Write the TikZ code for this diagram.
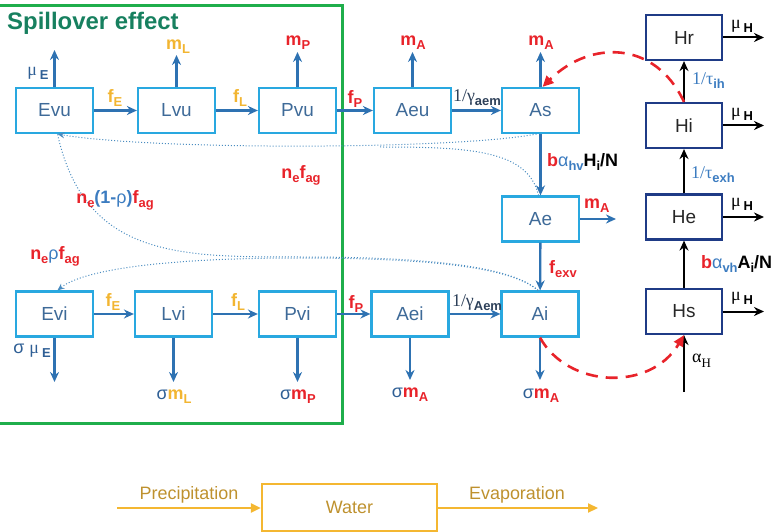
\documentclass[tikz,border=0pt]{standalone}
\usepackage{fontspec}
\setmainfont{Liberation Sans}
\newfontfamily\serifgr{Liberation Serif}
\usetikzlibrary{arrows.meta}
\definecolor{boxblue}{HTML}{29A8E0}
\definecolor{arrblue}{HTML}{2E72B2}
\definecolor{txtblue}{HTML}{3E6A98}
\definecolor{myred}{HTML}{E8232A}
\definecolor{myyel}{HTML}{F2B531}
\definecolor{navy}{HTML}{1F3B86}
\definecolor{sgreen}{HTML}{1FAE4B}
\definecolor{sgtxt}{HTML}{17805F}
\definecolor{watline}{HTML}{F4B731}
\definecolor{wattxt}{HTML}{BE912E}
\definecolor{dotblue}{HTML}{4A8CC0}
\definecolor{mublue}{HTML}{2F5F95}
\definecolor{gamcol}{HTML}{2D4059}
\definecolor{taucol}{HTML}{3C7CC0}
\newcommand\fsz[1]{\fontsize{#1}{#1}\selectfont}
\newcommand\lsub[1]{\raisebox{-0.22em}{\fsz{13}#1}}
\tikzset{
  vbox/.style={draw=boxblue, line width=2.2bp, minimum width=77bp, minimum height=45bp, inner sep=0, text=txtblue, font=\fsz{19}},
  hbox/.style={draw=navy, line width=2.2bp, minimum width=76bp, minimum height=45bp, inner sep=0, text=black!85, font=\fsz{19}},
  flow/.style={draw=arrblue, line width=2.3bp, -{Stealth[length=10bp,width=9bp]}},
  hflow/.style={draw=black, line width=2bp, -{Stealth[length=10bp,width=9bp]}},
  lab/.style={font=\bfseries\fsz{18}, inner sep=0},
  dotc/.style={draw=dotblue, line width=1bp, dotted},
  dotarr/.style={dotc, -{Stealth[length=7bp,width=6bp]}},
  reddash/.style={draw=myred, line width=2.6bp, dash pattern=on 12bp off 8bp, -{Triangle[length=11bp,width=10bp]}},
  watarr/.style={draw=watline, line width=2.2bp, -{Triangle[length=10bp,width=9bp]}},
}
\begin{document}
\begin{tikzpicture}[x=1bp,y=-1bp]
\useasboundingbox (0,0) rectangle (780,532);
% spillover frame
\draw[sgreen, line width=3bp] (-5,6) rectangle (342,423);
\node[anchor=west, font=\bfseries\fsz{24}, text=sgtxt, inner sep=0] (title) at (7,23.5) {Spillover effect};

% mosquito boxes
\node[vbox] (Evu) at (54.5,110.5) {Evu};
\node[vbox] (Lvu) at (176.5,110.5) {Lvu};
\node[vbox] (Pvu) at (297.5,110.5) {Pvu};
\node[vbox] (Aeu) at (412.5,110.5) {Aeu};
\node[vbox] (As) at (540.5,110.5) {As};
\node[vbox] (Ae) at (540.5,219) {Ae};
\node[vbox] (Evi) at (54.5,314) {Evi};
\node[vbox] (Lvi) at (173.5,314) {Lvi};
\node[vbox] (Pvi) at (297.5,314) {Pvi};
\node[vbox] (Aei) at (410,314) {Aei};
\node[vbox] (Ai) at (540,314) {Ai};

% host boxes
\node[hbox] (Hr) at (684,37.5) {Hr};
\node[hbox] (Hi) at (684,125.5) {Hi};
\node[hbox] (He) at (684,217) {He};
\node[hbox] (Hs) at (684,311.5) {Hs};

% free ends
\coordinate (uEvu) at (54.5,50);
\coordinate (uLvu) at (176.5,55);
\coordinate (uPvu) at (297.5,52);
\coordinate (uAeu) at (412.5,52);
\coordinate (uAs) at (540.5,52);
\coordinate (rAe) at (616,219);
\coordinate (dEvi) at (54.5,382);
\coordinate (dLvi) at (173.5,382);
\coordinate (dPvi) at (297.5,382);
\coordinate (dAei) at (410,380);
\coordinate (dAi) at (540,380);
\coordinate (rHr) at (764,37.5);
\coordinate (rHi) at (764,125.5);
\coordinate (rHe) at (764,217);
\coordinate (rHs) at (764,311.5);
\coordinate (inHs) at (684,392);

% top row flows
\draw[flow] (Evu) -- (Lvu);
\draw[flow] (Lvu) -- (Pvu);
\draw[flow] (Pvu) -- (Aeu);
\draw[flow] (Aeu) -- (As);
\draw[flow] (As) -- (Ae);
\draw[flow] (Ae) -- (Ai);
\draw[flow] (Evu.north) -- (uEvu);
\draw[flow] (Lvu.north) -- (uLvu);
\draw[flow] (Pvu.north) -- (uPvu);
\draw[flow] (Aeu.north) -- (uAeu);
\draw[flow] (As.north) -- (uAs);
\draw[flow] (Ae.east) -- (rAe);
% bottom row flows
\draw[flow] (Evi) -- (Lvi);
\draw[flow] (Lvi) -- (Pvi);
\draw[flow] (Pvi) -- (Aei);
\draw[flow] (Aei) -- (Ai);
\draw[flow] (Evi.south) -- (dEvi);
\draw[flow] (Lvi.south) -- (dLvi);
\draw[flow] (Pvi.south) -- (dPvi);
\draw[flow] (Aei.south) -- (dAei);
\draw[flow] (Ai.south) -- (dAi);

% host flows
\draw[hflow] (Hs) -- (He);
\draw[hflow] (He) -- (Hi);
\draw[hflow] (Hi) -- (Hr);
\draw[hflow] (inHs) -- (Hs);
\draw[hflow] (Hr.east) -- (rHr);
\draw[hflow] (Hi.east) -- (rHi);
\draw[hflow] (He.east) -- (rHe);
\draw[hflow] (Hs.east) -- (rHs);

% labels top
\node[lab, text=mublue] (lmuE) at (38,73) {{\serifgr\mdseries\fsz{18}μ}\,\lsub{E}};
\node[lab, text=myyel] (lmL) at (178,47) {m\lsub{L}};
\node[lab, text=myred] (lmP) at (298,43) {m\lsub{P}};
\node[lab, text=myred] (lmA1) at (413,43) {m\lsub{A}};
\node[lab, text=myred] (lmA2) at (541,43) {m\lsub{A}};
\node[lab, text=myyel] (lfE1) at (115,98) {f\lsub{E}};
\node[lab, text=myyel] (lfL1) at (240,98) {f\lsub{L}};
\node[lab, text=myred] (lfP1) at (355,99) {f\lsub{P}};
\node[lab, text=gamcol] (lgam1) at (477,98) {{\serifgr\mdseries\fsz{18}1/γ}\lsub{aem}};
\node[lab, anchor=west] (lbhv) at (547,162) {\textcolor{myred}{b}\textcolor{taucol}{\mdseries α\lsub{\bfseries hv}}H\lsub{i}/N};
\node[lab, text=myred, anchor=west] (lmA3) at (584,206) {m\lsub{A}};
\node[lab, text=myred, anchor=west] (lfexv) at (549,269) {f\lsub{exv}};
% labels bottom
\node[lab, text=myyel] (lfE2) at (113,302) {f\lsub{E}};
\node[lab, text=myyel] (lfL2) at (238,302) {f\lsub{L}};
\node[lab, text=myred] (lfP2) at (356,304) {f\lsub{P}};
\node[lab, text=gamcol] (lgam2) at (477,303) {{\serifgr\mdseries\fsz{18}1/γ}\lsub{Aem}};
\node[lab, text=mublue] (lsmuE) at (32,351) {{\mdseries σ} {\serifgr\mdseries\fsz{18}μ}\,\lsub{E}};
\node[lab] (lsmL) at (174,397) {\textcolor{mublue}{\mdseries σ}\textcolor{myyel}{m\lsub{L}}};
\node[lab] (lsmP) at (298,397) {\textcolor{mublue}{\mdseries σ}\textcolor{myred}{m\lsub{P}}};
\node[lab] (lsmA1) at (410,395) {\textcolor{mublue}{\mdseries σ}\textcolor{myred}{m\lsub{A}}};
\node[lab] (lsmA2) at (541,396) {\textcolor{mublue}{\mdseries σ}\textcolor{myred}{m\lsub{A}}};
% host labels
\node[lab] (lmuH1) at (742,26) {{\serifgr\mdseries μ}\,\lsub{H}};
\node[lab] (lmuH2) at (742,114) {{\serifgr\mdseries μ}\,\lsub{H}};
\node[lab] (lmuH3) at (742,204) {{\serifgr\mdseries μ}\,\lsub{H}};
\node[lab] (lmuH4) at (742,298) {{\serifgr\mdseries μ}\,\lsub{H}};
\node[lab, text=taucol, anchor=west] (ltih) at (692,81) {{\serifgr\mdseries\fsz{18}1/τ}\lsub{ih}};
\node[lab, text=taucol, anchor=west] (ltexh) at (691,175) {{\serifgr\mdseries\fsz{18}1/τ}\lsub{exh}};
\node[lab, anchor=west] (lbvh) at (701,264) {\textcolor{myred}{b}\textcolor{taucol}{\mdseries α\lsub{\bfseries vh}}A\lsub{i}/N};
\node[anchor=west, inner sep=0, font=\serifgr\fsz{18}] (laH) at (692,361) {α\raisebox{-0.25em}{\fsz{13}H}};

% red dashed infection curves
\draw[reddash] (Hi.north) .. controls (655,40) and (590,40) .. ([xshift=2bp]As.north);
\draw[reddash] (Ai.south) .. controls (568,388) and (650,392) .. (Hs.south);

% dotted egg-laying curves
\draw[dotarr] ([xshift=-4bp]As.south) .. controls (450,150) and (150,150) .. ([xshift=3bp]Evu.south);
\draw[dotc] ([xshift=-2bp]Ae.north) .. controls (528,150) and (470,147) .. (380,147);
\draw[dotc] ([xshift=-2bp]Ai.north) .. controls (510,265) and (420,257) .. (300,257)
  .. controls (180,257) and (85,258) .. ([xshift=3bp]Evu.south);
\draw[dotarr] ([xshift=-2bp]Ai.north) .. controls (510,266) and (420,258) .. (300,258)
  .. controls (150,258) and (80,272) .. ([xshift=3bp]Evi.north);
\node[lab, text=myred] (lnef) at (301,175) {n\lsub{e}f\lsub{ag}};
\node[lab, text=myred] (lne1r) at (115,200) {n\lsub{e}\textcolor{taucol}{(1-\mdseries ρ\bfseries)}f\lsub{ag}};
\node[lab, text=myred] (lner) at (55,256) {n\lsub{e}\textcolor{taucol}{\mdseries ρ}f\lsub{ag}};

% water
\node[draw=watline, line width=2.2bp, minimum width=175bp, minimum height=47bp, inner sep=0, text=wattxt, font=\fsz{18}] (W) at (349.5,507.5) {Water};
\coordinate (wIn) at (117,508);
\coordinate (wOut) at (598,508);
\draw[watarr] (wIn) -- (W.west |- wIn);
\draw[watarr] (W.east |- wOut) -- (wOut);
\node[text=wattxt, font=\fsz{18}, inner sep=0] (lprec) at (189,495) {Precipitation};
\node[text=wattxt, font=\fsz{18}, inner sep=0] (levap) at (517,495) {Evaporation};
\end{tikzpicture}
\end{document}
